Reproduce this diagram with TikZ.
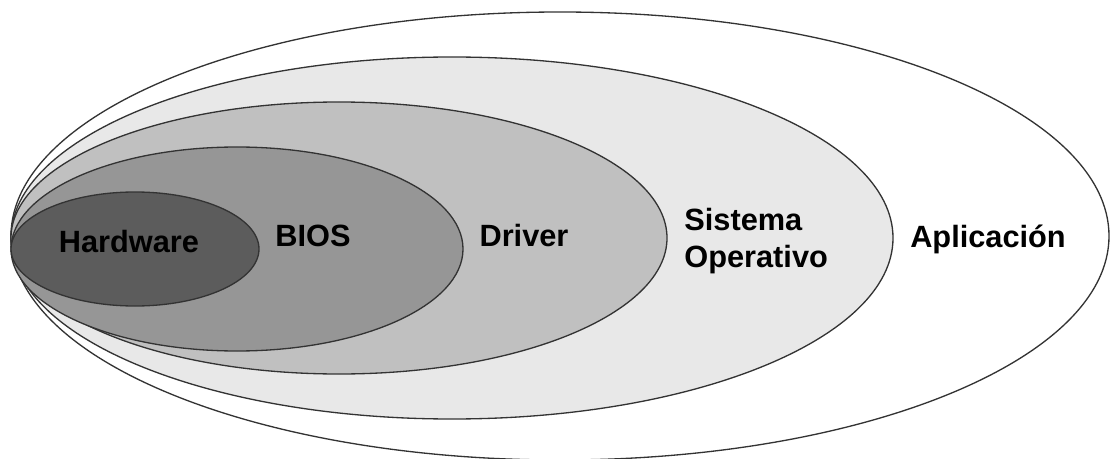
\documentclass[tikz,border=0pt]{standalone}
\usepackage{fontspec}
\setmainfont{Liberation Sans}
\usepackage{xcolor}
\usepackage{tikz}
\usetikzlibrary{positioning}
\definecolor{mLine}{HTML}{333333}
\definecolor{mHard}{HTML}{5C5C5C}
\definecolor{mBios}{HTML}{969696}
\definecolor{mDriver}{HTML}{C0C0C0}
\definecolor{mSys}{HTML}{E8E8E8}

\begin{document}
\begin{tikzpicture}[
    x=0.02cm, y=-0.02cm,
    layer/.style={draw=mLine, line width=0.75pt},
    lbl/.style={font=\bfseries\fontsize{17.5}{21}\selectfont, text=black, inner sep=0pt}
]
    \useasboundingbox (0,0) rectangle (1111,459);
    \clip (0,0) rectangle (1111,459);

    \filldraw[layer, fill=white] (560,236) ellipse [x radius=549, y radius=224];
    \filldraw[layer, fill=mSys] (452,238) ellipse [x radius=441, y radius=181];
    \filldraw[layer, fill=mDriver] (339,238) ellipse [x radius=328, y radius=136];
    \filldraw[layer, fill=mBios] (237,249) ellipse [x radius=226, y radius=102];
    \filldraw[layer, fill=mHard] (135,249) ellipse [x radius=124, y radius=57];

    \node[lbl, anchor=base] (hw) at (129,252) {Hardware};
    \node[lbl, anchor=base] (bios) at (313,246) {BIOS};
    \node[lbl, anchor=base] (drv) at (524,246) {Driver};
    \node[lbl, anchor=base west, align=left] (so) at (684,267) {Sistema\\Operativo};
    \node[lbl, anchor=base] (app) at (988,247) {Aplicación};
\end{tikzpicture}
\end{document}
